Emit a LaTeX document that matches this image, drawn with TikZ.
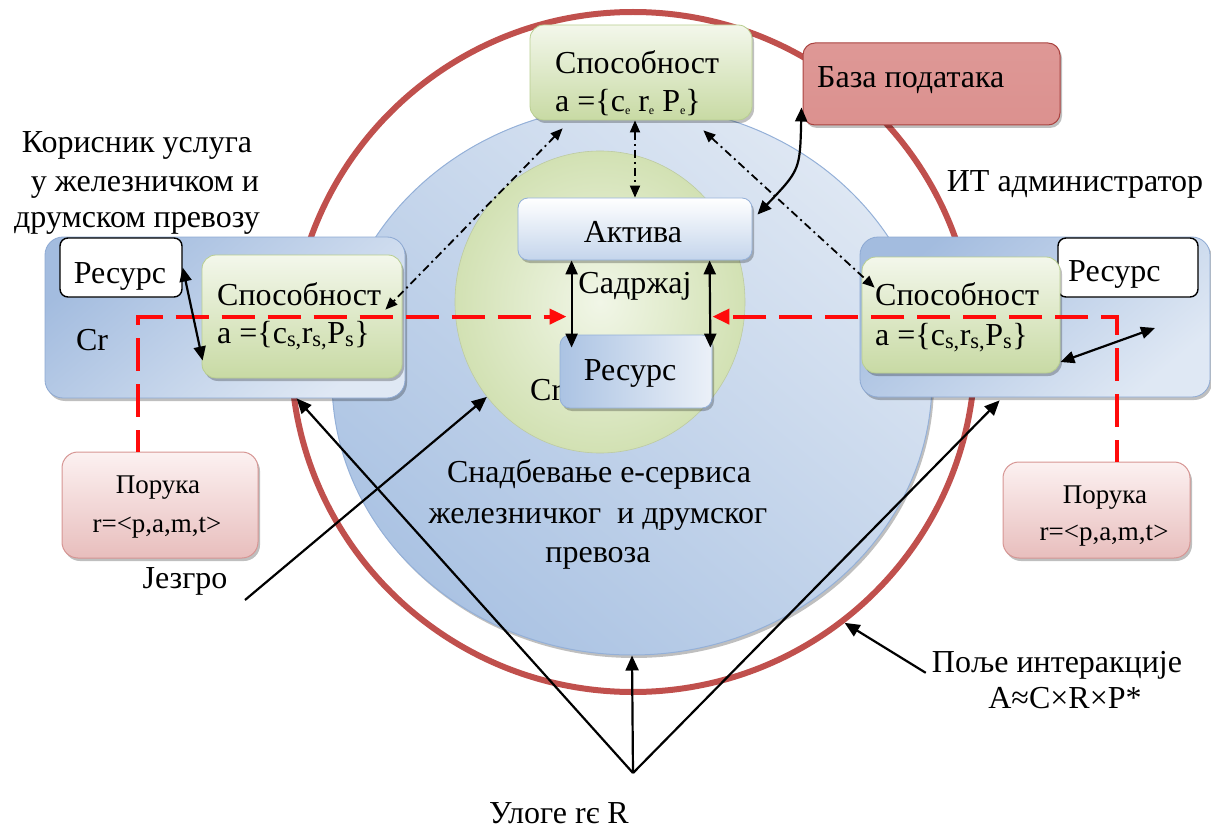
\documentclass[tikz,border=0pt]{standalone}
\usepackage{fontspec}
\setmainfont{Liberation Serif}
\usetikzlibrary{arrows.meta,shadows,calc,shapes.geometric}

\definecolor{ringred}{HTML}{C0504D}
\definecolor{coreA}{HTML}{ABC3E3}
\definecolor{coreB}{HTML}{DEE7F3}
\definecolor{coreedge}{HTML}{94B0D8}
\definecolor{innerA}{HTML}{F1F6E7}
\definecolor{innerB}{HTML}{D2E1B3}
\definecolor{capA}{HTML}{F3F7EB}
\definecolor{capB}{HTML}{C8DAA4}
\definecolor{capedge}{HTML}{B9CE90}
\definecolor{contA}{HTML}{A3BCDF}
\definecolor{contB}{HTML}{DFE8F4}
\definecolor{contedge}{HTML}{8DA9D3}
\definecolor{dbA}{HTML}{DE9896}
\definecolor{dbB}{HTML}{C4524F}
\definecolor{dbedge}{HTML}{A94340}
\definecolor{msgA}{HTML}{FCF1F1}
\definecolor{msgB}{HTML}{E8BEBD}
\definecolor{msgedge}{HTML}{D69593}
\definecolor{flowred}{HTML}{FF0A0A}

\newcommand\smallsub[1]{\raisebox{-3pt}{\fontsize{12}{12}\selectfont #1}}

\begin{document}
\begin{tikzpicture}[x=1pt,y=-1pt,
  lbl/.style={font=\fontsize{32}{38}\selectfont, inner sep=0pt},
  msgtxt/.style={font=\fontsize{27}{32}\selectfont, inner sep=0pt},
  softshadow/.style={drop shadow={opacity=0.25, shadow xshift=2pt, shadow yshift=-3pt, fill=black}},
  container/.style={rounded corners=18pt, draw=contedge, line width=0.8pt,
    top color=contA, bottom color=contB, shading angle=40, softshadow},
  capbox/.style={rounded corners=14pt, draw=capedge, line width=0.8pt,
    top color=capA, bottom color=capB, softshadow},
  resbox/.style={rounded corners=8pt, draw=black, line width=1.4pt, fill=white},
  activebox/.style={rounded corners=10pt, draw=coreedge, line width=0.8pt,
    top color=white, bottom color=coreA!70, softshadow},
  storebox/.style={rounded corners=10pt, draw=coreedge, line width=0.8pt,
    left color=coreA, right color=coreB!60, softshadow},
  dbbox/.style={rounded corners=12pt, draw=dbedge, line width=1pt,
    top color=dbA, middle color=dbB, bottom color=dbA!90!dbB, softshadow},
  msgbox/.style={rounded corners=16pt, draw=msgedge, line width=1pt,
    top color=msgA, bottom color=msgB, softshadow},
  blk/.style={line width=2.2pt, black},
  onetip/.style={-{Triangle[length=15pt,width=13pt]}},
  twotip/.style={{Triangle[length=14pt,width=12pt]}-{Triangle[length=14pt,width=12pt]}},
  dashdot/.style={line width=1.8pt, black, dash pattern=on 8pt off 4pt on 2pt off 4pt,
    {Triangle[length=12pt,width=10pt]}-{Triangle[length=12pt,width=10pt]}},
  flow/.style={line width=4pt, flowred, dash pattern=on 33pt off 13pt, dash phase=11pt,
    -{Triangle[length=17pt,width=15pt]}}
]
\useasboundingbox (0,0) rectangle (1211,832);

% outer ring: field of interaction
\node[ellipse, draw=ringred, line width=6pt, minimum width=684pt, minimum height=680pt, inner sep=0pt]
  (field) at (633,352) {};

% service provisioning core
\node[ellipse, draw=coreedge, line width=1pt, minimum width=600pt, minimum height=550pt, inner sep=0pt,
  top color=coreB, bottom color=coreA, shading angle=-40, softshadow] (core) at (632,380) {};

% kernel
\node[ellipse, draw=innerB!90!black, line width=0.6pt, minimum width=290pt, minimum height=302pt, inner sep=0pt,
  inner color=innerA, outer color=innerB] (inner) at (600,302) {};

% side containers
\node[container, minimum width=360pt, minimum height=161pt] (lbox) at (225,317.5) {};
\node[container, minimum width=350pt, minimum height=160pt] (rbox) at (1035,317) {};

\node[lbl, anchor=base] (lcr) at (92,350) {Cr};

\node[resbox, minimum width=122pt, minimum height=59pt] (lres) at (121,267.5) {};
\node[lbl, anchor=base] (lrestxt) at (120,283) {Ресурс};
\node[resbox, minimum width=140pt, minimum height=59pt] (rres) at (1128,267.5) {};
\node[lbl, anchor=base west] (rrestxt) at (1068,281) {Ресурс};

\node[capbox, minimum width=200pt, minimum height=123pt] (lcap) at (302,316.5) {};
\node[lbl, anchor=base west] (lcap1) at (217,305) {Способност};
\node[lbl, anchor=base west] (lcap2) at (217,343) {a =\{c\textsubscript{s,}r\textsubscript{s,}P\textsubscript{s}\}};

\node[capbox, minimum width=198pt, minimum height=116pt] (rcap) at (961,315) {};
\node[lbl, anchor=base west] (rcap1) at (875,305) {Способност};
\node[lbl, anchor=base west] (rcap2) at (875,345) {a =\{c\textsubscript{s,}r\textsubscript{s,}P\textsubscript{s}\}};

% top capability and database
\node[capbox, minimum width=222pt, minimum height=95pt] (tcap) at (641,72.5) {};
\node[lbl, anchor=base west] (tcap1) at (555,74) {Способност};
\node[lbl, anchor=base west] (tcap2) at (555,112) {a =\{c\smallsub{e} r\smallsub{e} P\smallsub{e}\}};

\node[dbbox, minimum width=257pt, minimum height=82pt] (db) at (931.5,84) {};
\node[lbl, anchor=base west] (dbtxt) at (817,88) {База података};

% kernel contents
\node[activebox, minimum width=234pt, minimum height=62pt] (aktiva) at (635,229) {};
\node[lbl, anchor=base] (aktivatxt) at (633,242) {Актива};
\node[lbl, anchor=base] (sadrzaj) at (635,293) {Садржај};
\node[lbl, anchor=base west] (icr) at (530,400) {Cr};
\node[storebox, minimum width=152pt, minimum height=73pt] (ires) at (636,371.5) {};
\node[lbl, anchor=base] (irestxt) at (630,380) {Ресурс};

% messages
\node[msgbox, minimum width=196pt, minimum height=106pt] (lmsg) at (160,505) {};
\node[msgtxt, anchor=base] (lmsg1) at (158,493) {Порука};
\node[msgtxt, anchor=base] (lmsg2) at (157,532) {r=<p,a,m,t>};
\node[msgbox, minimum width=187pt, minimum height=96pt] (rmsg) at (1096.5,510) {};
\node[msgtxt, anchor=base] (rmsg1) at (1105,503) {Порука};
\node[msgtxt, anchor=base] (rmsg2) at (1104,540) {r=<p,a,m,t>};

% free labels
\node[lbl, anchor=base] (user1) at (137,153) {Корисник услуга};
\node[lbl, anchor=base] (user2) at (145,192) {у железничком и};
\node[lbl, anchor=base] (user3) at (137,228) {друмском превозу};
\node[lbl, anchor=base] (admin) at (1075,192) {ИТ администратор};
\node[lbl, anchor=base] (prov1) at (599,482) {Снадбевање е-сервиса};
\node[lbl, anchor=base] (prov2) at (598,523) {железничког\ \ и друмског};
\node[lbl, anchor=base] (prov3) at (598,562) {превоза};
\node[lbl, anchor=base] (jez) at (185,588) {Језгро};
\node[lbl, anchor=base] (polje1) at (1057,672) {Поље интеракције};
\node[lbl, anchor=base] (polje2) at (1065,708) {A≈C×R×P*};
\node[lbl, anchor=base] (roles) at (559,823) {Улоге rє R};

% message flows
\draw[flow] ($(lmsg.north west)+(76,0)$) |- ($(ires.north west)+(7,-18)$);
\draw[flow] ($(rmsg.north west)+(114,0)$) |- ($(ires.north east)+(0,-18)$);

% content links between assets and resources
\draw[blk, twotip] ($(aktiva.south west)+(54,0)$) -- ($(ires.north west)+(12,13)$);
\draw[blk, twotip] ($(aktiva.south west)+(192,0)$) -- ($(ires.north east)+(-2,13)$);

% capability links
\draw[dashdot] ($(tcap.south west)+(33,8)$) -- ($(lcap.north east)+(-17,55)$);
\draw[dashdot] (tcap.south -| aktiva.north) -- (aktiva.north);
\draw[dashdot] ($(tcap.south east)+(-49,10)$) -- ($(rcap.north west)+(13,31)$);

% resource links inside containers
\draw[blk, twotip] (lres.east) -- ($(lcap.west)+(1,44)$);
\coordinate (rlink) at (1155,328);
\draw[blk, twotip] ($(rcap.east)+(0,47)$) -- (rlink);

% database link
\draw[blk, twotip] ($(db.south west)+(-1,-18)$) .. controls (800,170) .. ($(aktiva.north east)+(5,17)$);

% roles
\coordinate (rolept) at (633,773);
\draw[blk, onetip] (rolept) -- ($(lbox.south west)+(252,0)$);
\draw[blk, onetip] (rolept) -- (core.south);
\draw[blk, onetip] (rolept) -- ($(rbox.south west)+(140,3)$);

% kernel and field pointers
\coordinate (jezfrom) at (245,600);
\draw[blk, onetip] (jezfrom) -- (inner.220);
\draw[blk, onetip] ($(polje1.west)+(-6,8)$) -- (field.308);
\end{tikzpicture}
\end{document}
